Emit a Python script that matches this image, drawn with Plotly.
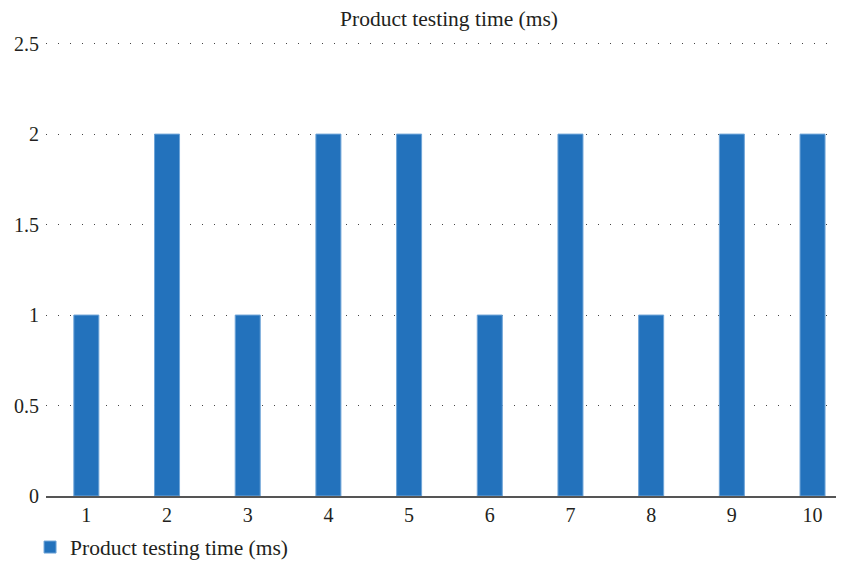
import plotly.graph_objects as go

categories = ["1", "2", "3", "4", "5", "6", "7", "8", "9", "10"]
values = [1, 2, 1, 2, 2, 1, 2, 1, 2, 2]
series_name = "Product testing time (ms)"
y_ticks = [0, 0.5, 1, 1.5, 2, 2.5]
y_tick_labels = ["0", "0.5", "1", "1.5", "2", "2.5"]

fam = "Liberation Serif, Times New Roman, serif"
txt = "#231f20"
tick_font = dict(family=fam, size=20, color=txt)
big_font = dict(family=fam, size=21.5, color=txt)

fig = go.Figure()
fig.add_trace(go.Bar(
    x=categories, y=values, name=series_name,
    marker=dict(color="#2372bc", line=dict(color="#6fa5d8", width=1)),
    width=0.31,
))

# the page body adds an 8px offset, so the figure is sized/margined to compensate
fig.update_layout(
    width=836, height=553,
    margin=dict(l=38, r=0, t=32, b=65, autoexpand=False),
    paper_bgcolor="white", plot_bgcolor="white",
    font=tick_font,
    title=dict(text=series_name, x=441 / 836, xanchor="center",
               y=0.995, yanchor="top", pad=dict(t=0, b=0), font=big_font),
    showlegend=True,
    legend=dict(orientation="h", x=-0.02, xanchor="left", y=-0.112, yanchor="middle",
                font=big_font, itemwidth=30),
)
fig.update_xaxes(
    type="category", range=[-0.5, 9.39], automargin=False,
    showline=True, linecolor="#555555", linewidth=1.5,
    showgrid=False, ticks="", tickfont=tick_font,
)
fig.update_yaxes(
    range=[0, 2.52], tickvals=y_ticks, ticktext=y_tick_labels, automargin=False,
    showgrid=True, gridcolor="#444444", gridwidth=1, griddash="1px,11px",
    zeroline=False, showline=False, ticks="", ticklen=0, tickfont=tick_font,
    ticklabelstandoff=6,
)
fig.write_html("out.html")
